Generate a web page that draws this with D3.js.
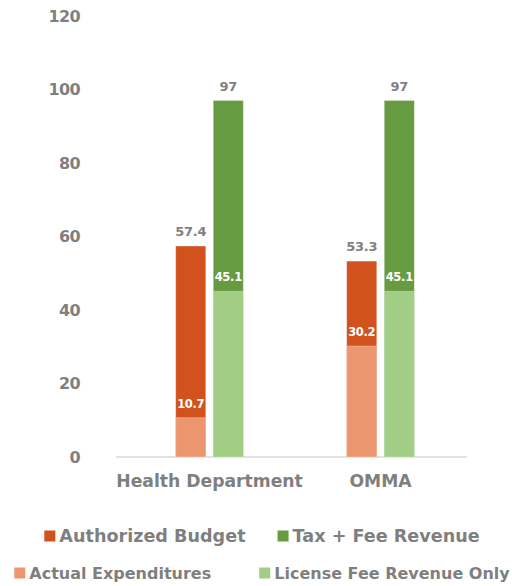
<!DOCTYPE html>
<html>
<head>
<meta charset="utf-8">
<script src="https://cdn.jsdelivr.net/npm/d3@7"></script>
<style>
  html, body { margin: 0; padding: 0; background: #fff; }
  svg { display: block; font-family: "DejaVu Sans", sans-serif; font-weight: bold; }
</style>
</head>
<body>
<div id="chart"></div>
<script>
// Budget vs revenue chart - overlapping bars per agency

const categories = ["Health Department", "OMMA"];
const authorizedBudget = [57.4, 53.3];
const actualExpenditures = [10.7, 30.2];
const taxFeeRevenue = [97, 97];
const licenseFeeRevenue = [45.1, 45.1];
const yTicks = [0, 20, 40, 60, 80, 100, 120];

const COLORS = {
    authorized: "#D1521D",
    actual: "#EC9670",
    taxFee: "#669B41",
    license: "#A1CD84",
    text: "#7F7F7F",
    axis: "#D9D9D9"
};

const CONFIG = {
    width: 512,
    height: 586,
    plotLeft: 124,
    plotRight: 466,
    yTop: 16,
    yBottom: 457
};

const svg = d3.select("#chart")
    .append("svg")
    .attr("width", CONFIG.width)
    .attr("height", CONFIG.height);

// Scales
const x = d3.scaleBand()
    .domain(categories)
    .range([CONFIG.plotLeft, CONFIG.plotRight]);

const half = 33.8;
const xSub = d3.scaleBand()
    .domain(["cost", "revenue"])
    .range([x.bandwidth() / 2 - half, x.bandwidth() / 2 + half])
    .paddingInner(0.2);

const y = d3.scaleLinear()
    .domain([0, 120])
    .range([CONFIG.yBottom, CONFIG.yTop]);

// Y axis labels (no line, no ticks)
const yAxis = svg.append("g")
    .attr("transform", "translate(80,0)")
    .call(d3.axisLeft(y).tickValues(yTicks).tickSize(0).tickPadding(0));
yAxis.select(".domain").remove();
yAxis.selectAll("text")
    .attr("fill", COLORS.text)
    .style("font-size", "16px")
    .style("letter-spacing", "-0.6px")
    .style("font-family", "'DejaVu Sans', sans-serif")
    .style("font-weight", "bold");

// Baseline
svg.append("line")
    .attr("x1", CONFIG.plotLeft - 8)
    .attr("x2", CONFIG.plotRight + 1)
    .attr("y1", y(0))
    .attr("y2", y(0))
    .attr("stroke", COLORS.axis)
    .attr("stroke-width", 1.5);

// Category labels
const xAxis = svg.append("g")
    .attr("transform", `translate(0,${y(0)})`)
    .call(d3.axisBottom(x).tickSize(0).tickPadding(18));
xAxis.select(".domain").remove();
xAxis.selectAll("text")
    .attr("fill", COLORS.text)
    .style("font-size", "17.2px")
    .style("font-family", "'DejaVu Sans', sans-serif")
    .style("font-weight", "bold");

// Bar layers: back (total) first, then front (part)
const layers = [
    { key: "authorized", sub: "cost", values: authorizedBudget, color: COLORS.authorized, label: COLORS.text, size: 13 },
    { key: "actual", sub: "cost", values: actualExpenditures, color: COLORS.actual, label: "#fff", size: 11.5 },
    { key: "taxFee", sub: "revenue", values: taxFeeRevenue, color: COLORS.taxFee, label: COLORS.text, size: 13 },
    { key: "license", sub: "revenue", values: licenseFeeRevenue, color: COLORS.license, label: "#fff", size: 11.5 }
];

layers.forEach(layer => {
    const data = categories.map((c, i) => ({ cat: c, value: layer.values[i] }));
    svg.append("g")
        .selectAll("rect")
        .data(data)
        .join("rect")
        .attr("x", d => x(d.cat) + xSub(layer.sub))
        .attr("y", d => y(d.value))
        .attr("width", xSub.bandwidth())
        .attr("height", d => y(0) - y(d.value))
        .attr("fill", layer.color)
        .attr("stroke", "rgba(255,255,255,0.35)")
        .attr("stroke-width", 0.8);
});

// Value labels above each bar top
layers.forEach(layer => {
    const data = categories.map((c, i) => ({ cat: c, value: layer.values[i] }));
    svg.append("g")
        .selectAll("text")
        .data(data)
        .join("text")
        .attr("x", d => x(d.cat) + xSub(layer.sub) + xSub.bandwidth() / 2)
        .attr("y", d => y(d.value) - 10)
        .attr("text-anchor", "middle")
        .attr("fill", layer.label)
        .style("font-size", layer.size + "px")
        .style("letter-spacing", "-0.3px")
        .text(d => d.value);
});

// Legend - two centered rows
const legendRows = [
    { y: 536, gap: 32, size: 17.6, items: [
        { name: "Authorized Budget", color: COLORS.authorized },
        { name: "Tax + Fee Revenue", color: COLORS.taxFee }
    ] },
    { y: 573, gap: 48, size: 16, items: [
        { name: "Actual Expenditures", color: COLORS.actual },
        { name: "License Fee Revenue Only", color: COLORS.license }
    ] }
];

const legendCenter = 262;
const sw = 11;
legendRows.forEach(row => {
    const g = svg.append("g");
    const items = row.items.map(item => {
        const ig = g.append("g");
        ig.append("rect")
            .attr("y", row.y - sw / 2)
            .attr("width", sw)
            .attr("height", sw)
            .attr("fill", item.color);
        const t = ig.append("text")
            .attr("x", sw + 4)
            .attr("y", row.y)
            .attr("dy", "0.35em")
            .attr("fill", COLORS.text)
            .style("font-size", row.size + "px")
            .text(item.name);
        return { g: ig, w: sw + 4 + t.node().getComputedTextLength() };
    });
    const total = d3.sum(items, d => d.w) + row.gap * (items.length - 1);
    let cx = legendCenter - total / 2;
    items.forEach(it => {
        it.g.attr("transform", `translate(${cx},0)`);
        cx += it.w + row.gap;
    });
});
</script>
</body>
</html>
